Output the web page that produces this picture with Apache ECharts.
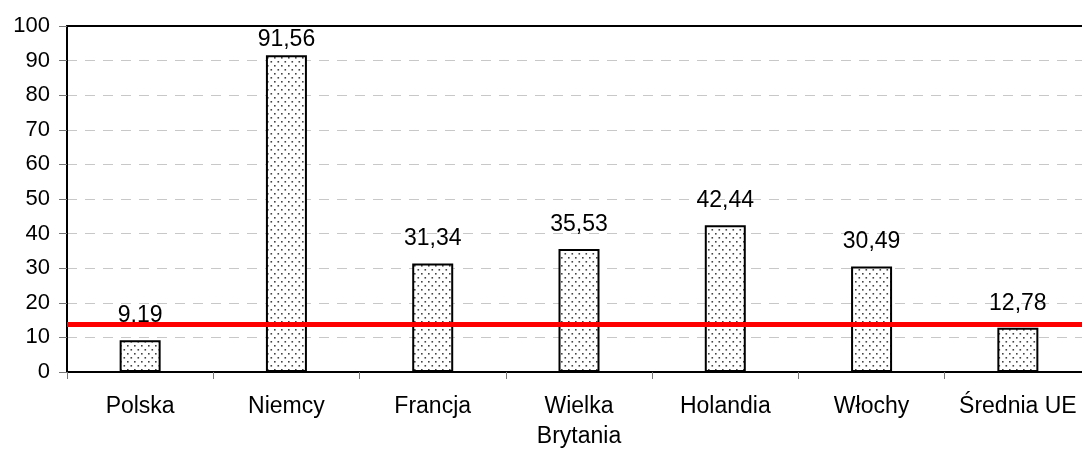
<!DOCTYPE html>
<html>
<head>
<meta charset="utf-8">
<script src="https://cdn.jsdelivr.net/npm/echarts@6/dist/echarts.min.js"></script>
<style>
  html, body { margin: 0; padding: 0; background: #fff; overflow: hidden; }
  #chart { width: 1082px; height: 449px; }
</style>
</head>
<body>
<div id="chart"></div>
<script>
const categories = ['Polska', 'Niemcy', 'Francja', 'Wielka\nBrytania', 'Holandia', 'Włochy', 'Średnia UE']
const values = [9.19, 91.56, 31.34, 35.53, 42.44, 30.49, 12.78]
const refLine = 13.9
const yTicks = [0, 10, 20, 30, 40, 50, 60, 70, 80, 90, 100]

// small dotted fill like the original print pattern
const makeDots = () => {
  const c = document.createElement('canvas')
  c.width = 7
  c.height = 8
  const ctx = c.getContext('2d')
  ctx.fillStyle = '#fff'
  ctx.fillRect(0, 0, 7, 8)
  ctx.fillStyle = '#444'
  ctx.fillRect(1, 1, 1.6, 1.6)
  ctx.fillRect(4.5, 5, 1.6, 1.6)
  return c
}

const chart = echarts.init(document.getElementById('chart'))
const font = 'Liberation Sans, Arial, sans-serif'

// labels near the top get pulled down so they stay inside the plot
const barData = values.map(v => v > 85 ? { value: v, label: { distance: 4 } } : v)

chart.setOption({
  animation: false,
  // plot area runs a little past the right edge, as in the original
  grid: { left: 67, top: 26, bottom: 77, right: -9, outerBoundsMode: 'none' },
  xAxis: [{
    type: 'category',
    data: categories,
    axisLine: { lineStyle: { color: '#000', width: 2 } },
    axisTick: { show: true, length: 7, lineStyle: { color: '#777' } },
    axisLabel: { color: '#000', fontSize: 23, fontFamily: font, margin: 20, lineHeight: 30, interval: 0 }
  }, {
    // top frame line only
    type: 'category',
    position: 'top',
    data: categories,
    axisLine: { lineStyle: { color: '#000', width: 2 } },
    axisTick: { show: false },
    axisLabel: { show: false }
  }],
  yAxis: {
    type: 'value',
    min: 0, max: 100, interval: 10,
    axisLine: { show: true, lineStyle: { color: '#000', width: 2 } },
    axisTick: { show: true, length: 8, lineStyle: { color: '#777' } },
    axisLabel: {
      color: '#000', fontSize: 22, fontFamily: font, margin: 17,
      formatter: v => yTicks.includes(v) ? String(v) : ''
    },
    splitLine: { lineStyle: { color: '#c8c8c8', type: [10, 8] } }
  },
  series: [{
    type: 'bar',
    data: barData,
    barWidth: 41,
    itemStyle: {
      color: { image: makeDots(), repeat: 'repeat' },
      borderColor: '#000',
      borderWidth: 2
    },
    label: {
      show: true,
      position: 'top',
      distance: 13,
      color: '#000',
      fontSize: 23,
      fontFamily: font,
      formatter: p => p.value.toFixed(2).replace('.', ',')
    },
    markLine: {
      silent: true,
      symbol: 'none',
      label: { show: false },
      lineStyle: { color: '#ff0000', width: 5, type: 'solid' },
      data: [{ yAxis: refLine }]
    }
  }]
})
</script>
</body>
</html>
